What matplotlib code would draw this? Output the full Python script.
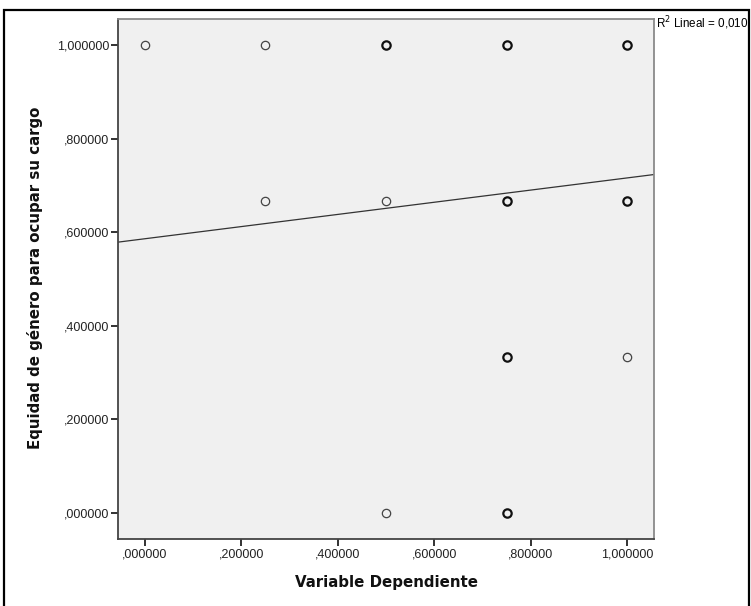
import numpy as np
import matplotlib
matplotlib.use("Agg")
import matplotlib.pyplot as plt
from matplotlib.patches import Rectangle

plt.rcParams['font.family'] = ['Liberation Sans', 'DejaVu Sans']

# observed pairs (x, y) and how many cases fall on each one
x_vals = [0.0, 0.25, 0.5, 0.75, 1.0,
          0.25, 0.5, 0.75, 1.0,
          0.75, 1.0,
          0.5, 0.75]
y_vals = [1.0, 1.0, 1.0, 1.0, 1.0,
          0.666667, 0.666667, 0.666667, 0.666667,
          0.333333, 0.333333,
          0.0, 0.0]
counts = [1, 1, 3, 3, 3,
          1, 1, 3, 3,
          3, 1,
          1, 3]

# linear fit reported by SPSS
fit_intercept = 0.586
fit_slope = 0.130
r2_text = "R$^2$ Lineal = 0,010"

ticks = [0.0, 0.2, 0.4, 0.6, 0.8, 1.0]
tick_labels = [",000000", ",200000", ",400000", ",600000", ",800000", "1,000000"]

W, H = 751, 606
fig = plt.figure(figsize=(W / 100, H / 100), dpi=100)
ax = fig.add_axes([118 / W, 1 - 539 / H, (654 - 118) / W, (539 - 19) / H])
ax.set_facecolor('#f0f0f0')

pad = 0.0556
ax.set_xlim(-pad, 1 + pad)
ax.set_ylim(-pad, 1 + pad)

for x, y, n in zip(x_vals, y_vals, counts):
    lw = 0.9 if n == 1 else 1.6
    ec = '#444444' if n == 1 else '#111111'
    ax.plot(x, y, 'o', ms=6.0, mfc='none', mec=ec, mew=lw, zorder=3)

xx = np.array(ax.get_xlim())
ax.plot(xx, fit_intercept + fit_slope * xx, color='#333333', lw=0.9, zorder=2)

ax.set_xticks(ticks)
ax.set_xticklabels(tick_labels)
ax.set_yticks(ticks)
ax.set_yticklabels(tick_labels)
ax.tick_params(direction='out', length=5, width=1.3, color='#222222',
               labelsize=9, labelcolor='#222222', pad=1.5)

for side in ['left', 'bottom']:
    ax.spines[side].set_color('#444444')
    ax.spines[side].set_linewidth(1.3)
for side in ['top', 'right']:
    ax.spines[side].set_color('#8a8a8a')
    ax.spines[side].set_linewidth(1.3)

label_font = dict(family=['DejaVu Sans'], fontsize=10.8, fontweight='bold', color='#111111')
fig.text(387 / W, 1 - 583 / H, "Variable Dependiente", ha='center', va='center', **label_font)
fig.text(35 / W, 1 - 278 / H, "Equidad de género para ocupar su cargo",
         ha='center', va='center', rotation=90, **label_font)
fig.text(656 / W, 1 - 23 / H, r2_text, ha='left', va='center', fontsize=8.4)

# outer frame around the whole graph
fig.patches.append(Rectangle((4 / W, -0.05), (749 - 4) / W, 1.05 - 10 / H,
                             transform=fig.transFigure, fill=False,
                             edgecolor='black', lw=1.6))

fig.savefig('out.png', dpi=100)
